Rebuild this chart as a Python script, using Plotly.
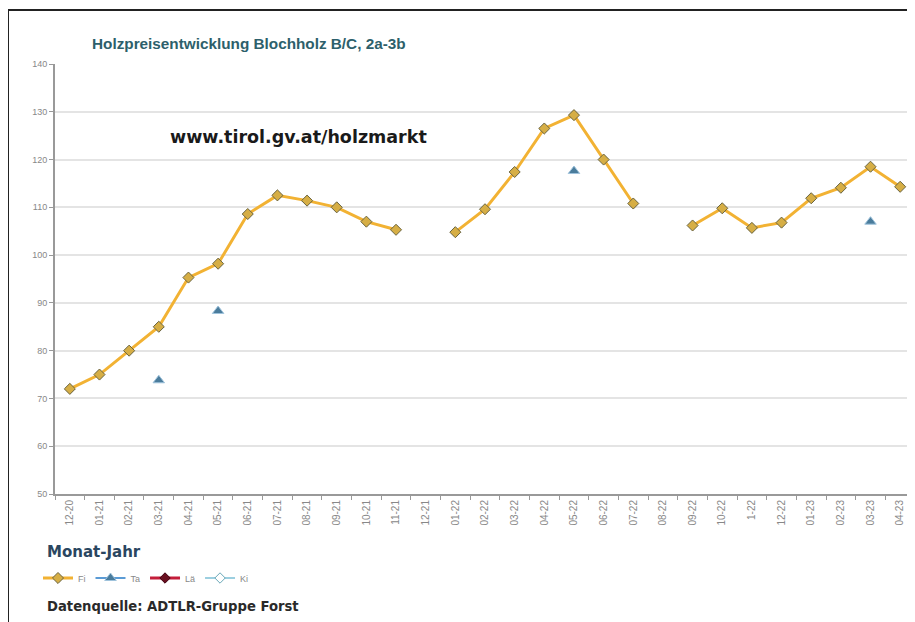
import plotly.graph_objects as go

months = ["12-20", "01-21", "02-21", "03-21", "04-21", "05-21", "06-21", "07-21",
          "08-21", "09-21", "10-21", "11-21", "12-21", "01-22", "02-22", "03-22",
          "04-22", "05-22", "06-22", "07-22", "08-22", "09-22", "10-22", "1-22",
          "12-22", "01-23", "02-23", "03-23", "04-23"]

fi = [72, 75, 80, 85, 95.3, 98.2, 108.6, 112.5, 111.4, 110, 107, 105.3, None,
      104.8, 109.6, 117.4, 126.5, 129.3, 120, 110.8, None, 106.2, 109.8, 105.7,
      106.8, 111.9, 114.1, 118.5, 114.3]

ta = [None, None, None, 73.8, None, 88.3, None, None, None, None, None, None, None,
      None, None, None, None, 117.6, None, None, None, None, None, None,
      None, None, None, 107, None]

la = [None] * len(months)
ki = [None] * len(months)

y_ticks = [50, 60, 70, 80, 90, 100, 110, 120, 130, 140]

# page offset (body margin) compensation
OX, OY = 8, 8
W, H = 915 - OX, 622 - OY
L, T = 55 - OX, 64 - OY
R = 0
PB = 494 - OY           # bottom of plot area in figure pixels
B = H - PB
PW, PH = W - L - R, PB - T


def px(x):
    return (x - OX - L) / PW


def py(y):
    return (PB - (y - OY)) / PH


fig = go.Figure()

fig.add_trace(go.Scatter(
    x=months, y=fi, name="Fi", mode="lines+markers",
    line=dict(color="#f2b233", width=3),
    marker=dict(symbol="diamond", size=8.5, color="#d6ae45",
                line=dict(color="#6a6440", width=1)),
    connectgaps=False))

fig.add_trace(go.Scatter(
    x=months, y=ta, name="Ta", mode="lines+markers",
    line=dict(color="#5b9bd5", width=2),
    marker=dict(symbol="triangle-up", size=10, color="#4a7c9c",
                line=dict(color="#9fc3dc", width=1)),
    connectgaps=False))

fig.add_trace(go.Scatter(
    x=months, y=la, name="Lä", mode="lines+markers",
    line=dict(color="#c41e3a", width=3),
    marker=dict(symbol="diamond", size=8, color="#6a1020",
                line=dict(color="#400010", width=1))))

fig.add_trace(go.Scatter(
    x=months, y=ki, name="Ki", mode="lines+markers",
    line=dict(color="#9ccfe0", width=2),
    marker=dict(symbol="diamond", size=8, color="#ffffff",
                line=dict(color="#6aa8b8", width=1))))

annotations = [
    dict(text="<b>Holzpreisentwicklung Blochholz B/C, 2a-3b</b>",
         x=px(90), y=py(44), xanchor="left", yanchor="middle",
         font=dict(family="Liberation Sans", size=15.3, color="#2d5f6b")),
    dict(text="<b>www.tirol.gv.at/holzmarkt</b>",
         x=px(168), y=py(137), xanchor="left", yanchor="middle",
         font=dict(family="DejaVu Sans", size=17.5, color="#1a1a1a")),
    dict(text="<b>Monat-Jahr</b>",
         x=px(45), y=py(552), xanchor="left", yanchor="middle",
         font=dict(family="DejaVu Sans", size=15, color="#2a4660")),
    dict(text="<b>Datenquelle: ADTLR-Gruppe Forst</b>",
         x=px(45), y=py(606), xanchor="left", yanchor="middle",
         font=dict(family="DejaVu Sans", size=13.2, color="#2a2a2a")),
]
for a in annotations:
    a.update(xref="paper", yref="paper", showarrow=False)

shapes = [
    dict(type="line", xref="paper", yref="paper",
         x0=px(8), x1=px(930), y0=py(10), y1=py(10),
         line=dict(color="#222222", width=2)),
    dict(type="line", xref="paper", yref="paper",
         x0=px(8), x1=px(8), y0=py(10), y1=py(640),
         line=dict(color="#222222", width=2)),
]

fig.update_layout(
    width=W, height=H,
    margin=dict(l=L, r=R, t=T, b=B, pad=0),
    paper_bgcolor="white", plot_bgcolor="white",
    font=dict(family="Liberation Sans", color="#777777"),
    showlegend=True,
    legend=dict(orientation="h", x=px(38), y=py(578), xanchor="left",
                yanchor="middle", font=dict(size=9, color="#888888"),
                itemwidth=30, tracegroupgap=0, bgcolor="rgba(0,0,0,0)"),
    annotations=annotations,
    shapes=shapes,
)

fig.update_xaxes(
    type="category", categoryorder="array", categoryarray=months,
    range=[-0.5, len(months) - 0.5],
    tickangle=-90, tickfont=dict(size=10, color="#888888"),
    showline=True, linecolor="#999999", linewidth=2,
    ticks="outside", ticklen=4, tickcolor="#999999", tickson="boundaries",
    showgrid=False, zeroline=False,
)

fig.update_yaxes(
    range=[50, 140], tickvals=y_ticks,
    tickfont=dict(size=9, color="#888888"),
    showline=True, linecolor="#999999", linewidth=2,
    ticks="outside", ticklen=4, tickcolor="#999999",
    showgrid=True, gridcolor="#e4e4e4", gridwidth=1.5, zeroline=False,
)

fig.write_html("out.html")
